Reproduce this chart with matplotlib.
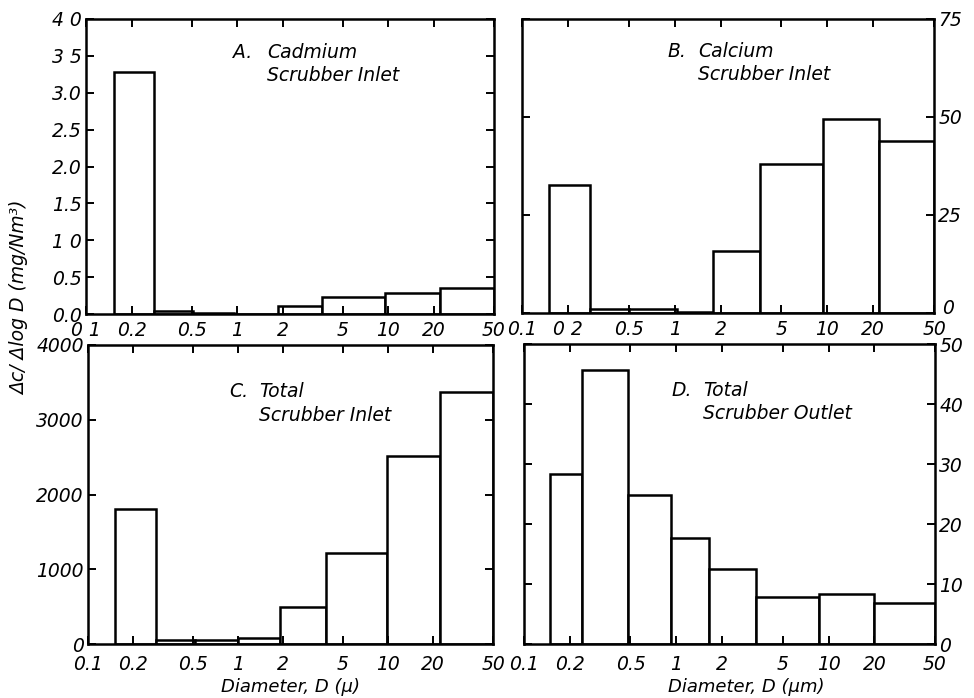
import numpy as np
import matplotlib
matplotlib.use("Agg")
import matplotlib.pyplot as plt
from matplotlib.ticker import NullLocator, FixedLocator, FixedFormatter
from matplotlib.transforms import ScaledTranslation

# ---- data ----
x_ticks = [0.1, 0.2, 0.5, 1, 2, 5, 10, 20, 50]

edges_a = [0.153, 0.28, 0.51, 0.95, 1.87, 3.65, 9.5, 21.9, 50]
vals_a = [3.28, 0.04, 0.01, 0.0, 0.11, 0.23, 0.29, 0.35]
xlab_a = ["0 1", "0.2", "0.5", "1", "2", "5", "10", "20", "50"]
yt_a = [0, 0.5, 1.0, 1.5, 2.0, 2.5, 3.0, 3.5, 4.0]
ylab_a = ["0.0", "0.5", "1 0", "1.5", "2.0", "2.5", "3.0", "3 5", "4 0"]

edges_b = [0.150, 0.279, 0.50, 1.03, 1.78, 3.63, 9.4, 21.9, 50]
vals_b = [32.6, 1.1, 1.1, 0.3, 15.8, 38.0, 49.6, 43.8]
xlab_b = ["0.1", "0 2", "0.5", "1", "2", "5", "10", "20", "50"]
yt_b = [0, 25, 50, 75]

edges_c = [0.151, 0.283, 0.52, 1.0, 1.9, 3.86, 9.8, 22.3, 50]
vals_c = [1810, 50, 50, 80, 490, 1220, 2520, 3370]
xlab_c = ["0.1", "0.2", "0.5", "1", "2", "5", "10", "20", "50"]
yt_c = [0, 1000, 2000, 3000, 4000]

edges_d = [0.148, 0.24, 0.48, 0.92, 1.65, 3.34, 8.7, 20.0, 50]
vals_d = [28.3, 45.7, 24.8, 17.7, 12.5, 7.9, 8.4, 6.8]
xlab_d = ["0.1", "0.2", "0.5", "1", "2", "5", "10", "20", "50"]
yt_d = [0, 10, 20, 30, 40, 50]

plt.rcParams["font.family"] = ["DejaVu Sans"]
plt.rcParams["font.style"] = "italic"
plt.rcParams["font.size"] = 13.5

W, H = 974, 698
fig = plt.figure(figsize=(W / 100, H / 100), dpi=100)


def make_ax(l, r, t, b):
    return fig.add_axes([l / W, 1 - b / H, (r - l) / W, (b - t) / H])


def panel(ax, edges, vals, xlabels, yticks, ylabels, ymax, right=False, xpad=8):
    edges = np.array(edges)
    ax.bar(edges[:-1], vals, width=np.diff(edges), align="edge",
           facecolor="white", edgecolor="black", linewidth=1.8)
    ax.set_xscale("log")
    ax.set_xlim(0.1, 50)
    ax.set_ylim(0, ymax)
    ax.xaxis.set_major_locator(FixedLocator(x_ticks))
    ax.xaxis.set_major_formatter(FixedFormatter(xlabels))
    ax.xaxis.set_minor_locator(NullLocator())
    ax.set_yticks(yticks)
    ax.set_yticklabels(ylabels if ylabels else [str(v) for v in yticks])
    ax.tick_params(direction="in", length=6, width=1.4, top=True, right=True,
                   labelsize=13.5)
    ax.tick_params(axis="x", pad=xpad)
    ax.tick_params(axis="y", pad=3)
    if right:
        ax.yaxis.tick_right()
        ax.yaxis.set_ticks_position("both")
        ax.tick_params(axis="y", labelleft=False, labelright=True)
    for s in ax.spines.values():
        s.set_linewidth(1.8)


ax_a = make_ax(86, 494, 19, 314)
panel(ax_a, edges_a, vals_a, xlab_a, yt_a, ylab_a, 4.0, xpad=5)
ax_a.text(0.360, 0.888, "A.", transform=ax_a.transAxes, va="center")
ax_a.text(0.444, 0.888, "Cadmium", transform=ax_a.transAxes, va="center")
ax_a.text(0.444, 0.808, "Scrubber Inlet", transform=ax_a.transAxes, va="center")

ax_b = make_ax(522, 934, 19, 313)
panel(ax_b, edges_b, vals_b, xlab_b, yt_b, None, 75, right=True, xpad=5)
ax_b.text(0.352, 0.888, "B.", transform=ax_b.transAxes, va="center")
ax_b.text(0.427, 0.888, "Calcium", transform=ax_b.transAxes, va="center")
ax_b.text(0.427, 0.810, "Scrubber Inlet", transform=ax_b.transAxes, va="center")
# the "0" on panel B sits a little above the baseline in the original
zero_b = ax_b.yaxis.get_major_ticks()[0].label2
zero_b.set_transform(zero_b.get_transform() +
                     ScaledTranslation(3 / 72, 5 / 72, fig.dpi_scale_trans))

ax_c = make_ax(88, 493, 345, 644)
panel(ax_c, edges_c, vals_c, xlab_c, yt_c, None, 4000)
ax_c.text(0.348, 0.845, "C.", transform=ax_c.transAxes, va="center")
ax_c.text(0.422, 0.845, "Total", transform=ax_c.transAxes, va="center")
ax_c.text(0.422, 0.765, "Scrubber Inlet", transform=ax_c.transAxes, va="center")
ax_c.set_xlabel("Diameter, D (μ)", fontsize=13)
ax_c.xaxis.set_label_coords(0.5, -0.115)

ax_d = make_ax(524, 935, 344, 644)
panel(ax_d, edges_d, vals_d, xlab_d, yt_d, None, 50, right=True)
ax_d.text(0.358, 0.845, "D.", transform=ax_d.transAxes, va="center")
ax_d.text(0.435, 0.845, "Total", transform=ax_d.transAxes, va="center")
ax_d.text(0.435, 0.768, "Scrubber Outlet", transform=ax_d.transAxes, va="center")
ax_d.set_xlabel("Diameter, D (μm)", fontsize=13)
ax_d.xaxis.set_label_coords(0.54, -0.115)

fig.text(20 / W, 1 - 298 / H, "Δc/ Δlog D (mg/Nm³)", rotation=90,
         ha="center", va="center", fontsize=13.5)

fig.savefig("out.png", dpi=100)
